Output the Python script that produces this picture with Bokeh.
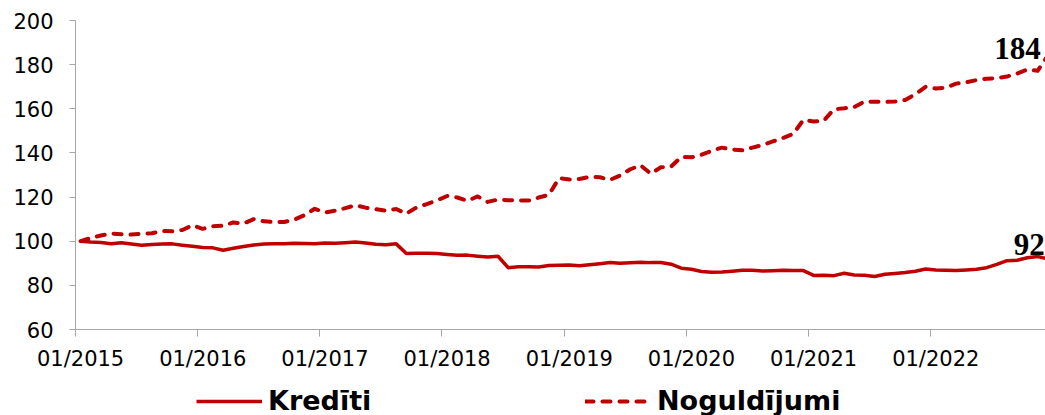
from bokeh.plotting import figure
from bokeh.layouts import column
from bokeh.models import Range1d, FixedTicker, Legend, LegendItem, Label, ColumnDataSource
from bokeh.embed import file_html
from bokeh.resources import INLINE

# Monthly categories 01/2015 .. 12/2022
months = [f"{mm:02d}/{yy}" for yy in range(2015, 2023) for mm in range(1, 13)]

# Index, 01/2015 = 100
kredititi = [
    100.0, 99.6, 99.4, 98.9, 99.3, 98.7, 98.2, 98.5, 98.7, 98.8, 98.2, 97.7,
    97.2, 97.0, 95.9, 96.8, 97.6, 98.3, 98.7, 98.9, 98.9, 99.1, 99.0, 98.9,
    99.2, 99.1, 99.3, 99.6, 99.2, 98.6, 98.4, 98.8, 94.4, 94.5, 94.6, 94.4,
    94.0, 93.6, 93.7, 93.2, 92.8, 93.2, 88.0, 88.4, 88.4, 88.3, 89.0, 89.1,
    89.2, 88.9, 89.3, 89.8, 90.4, 90.0, 90.2, 90.5, 90.3, 90.4, 89.6, 87.8,
    87.3, 86.3, 85.9, 86.0, 86.4, 86.8, 86.8, 86.5, 86.6, 86.8, 86.7, 86.7,
    84.5, 84.6, 84.4, 85.5, 84.7, 84.6, 84.0, 85.0, 85.4, 85.8, 86.4, 87.4,
    87.0, 86.9, 86.7, 87.0, 87.3, 88.0, 89.5, 91.2, 91.4, 92.5, 93.1, 92.0,
]
noguldijumi = [
    100.0, 101.5, 102.6, 103.5, 103.2, 103.0, 103.4, 103.6, 104.6, 104.5, 105.1, 107.2,
    105.6, 106.8, 107.0, 108.5, 108.0, 110.0, 109.0, 108.7, 108.7, 109.8, 111.8, 114.7,
    113.0, 113.8, 115.0, 116.3, 115.2, 114.5, 113.8, 114.6, 112.5, 115.3, 116.8, 118.5,
    120.5, 119.8, 118.3, 120.3, 117.8, 118.9, 118.6, 118.5, 118.4, 119.8, 121.0, 128.6,
    128.0, 128.2, 129.2, 129.0, 127.8, 129.8, 132.6, 134.4, 130.6, 133.5, 133.8, 138.2,
    138.0, 139.2, 141.0, 142.4, 141.5, 141.2, 142.4, 143.6, 145.2, 146.8, 148.6, 155.0,
    154.2, 154.6, 159.8, 160.2, 160.8, 163.3, 163.2, 163.1, 163.3, 164.0, 166.6, 169.9,
    169.2, 169.6, 171.4, 172.0, 173.0, 173.6, 173.9, 174.6, 176.0, 177.8, 177.2, 184.0,
]
series_names = ["Kredīti", "Noguldījumi"]
tick_labels = ["01/2015", "01/2016", "01/2017", "01/2018", "01/2019", "01/2020", "01/2021", "01/2022"]
y_ticks = [60, 80, 100, 120, 140, 160, 180, 200]
end_labels = ["92", "184"]

RED = "#C00000"
AXIS = "#A6A6A6"

x = list(range(len(months)))
src = ColumnDataSource(dict(x=x, month=months, k=kredititi, n=noguldijumi))

p = figure(frame_width=970, frame_height=309, output_backend="svg", toolbar_location=None,
           x_range=Range1d(-0.5, 94.78), y_range=Range1d(60, 200),
           min_border_left=75, min_border_right=0, min_border_top=20, min_border_bottom=41)
p.outline_line_color = None
p.xgrid.visible = False
p.ygrid.visible = False
p.background_fill_color = "white"
p.border_fill_color = "white"

solid_style = dict(line_color=RED, line_width=3.5, line_join="round")
dash_style = dict(line_color=RED, line_width=4, line_dash="8 9", line_cap="round", line_join="round")
r1 = p.line("x", "k", source=src, **solid_style)
r2 = p.line("x", "n", source=src, **dash_style)

tick_pos = [months.index(t) for t in tick_labels]
bounds = [t - 0.5 for t in tick_pos]
xa = p.xaxis[0]
xa.ticker = FixedTicker(ticks=tick_pos, minor_ticks=bounds)
xa.major_label_overrides = {t: lbl for t, lbl in zip(tick_pos, tick_labels)}
xa.major_tick_out = 0
xa.major_tick_in = 0
xa.minor_tick_out = 7
xa.minor_tick_in = 0
xa.minor_tick_line_color = AXIS
xa.axis_line_color = AXIS
xa.major_label_text_font = "DejaVu Sans"
xa.major_label_text_font_size = "21px"
xa.major_label_text_color = "#000000"
xa.major_label_standoff = 10

ya = p.yaxis[0]
ya.ticker = FixedTicker(ticks=y_ticks, minor_ticks=[])
ya.major_tick_out = 6
ya.major_tick_in = 0
ya.major_tick_line_color = AXIS
ya.axis_line_color = AXIS
ya.major_label_text_font = "DejaVu Sans"
ya.major_label_text_font_size = "21px"
ya.major_label_text_color = "#000000"
ya.major_label_standoff = 16

last = len(months) - 1
p.add_layout(Label(x=last, y=kredititi[-1], text=end_labels[0], text_font="Liberation Serif",
                   text_font_style="bold", text_font_size="31px", text_color="#000000",
                   text_align="right", text_baseline="alphabetic", x_offset=-3, y_offset=14))
p.add_layout(Label(x=last, y=noguldijumi[-1], text=end_labels[1], text_font="Liberation Serif",
                   text_font_style="bold", text_font_size="31px", text_color="#000000",
                   text_align="right", text_baseline="alphabetic", x_offset=-7, y_offset=7))

# Legend strip under the chart
lg = figure(width=1045, height=45, output_backend="svg", toolbar_location=None,
            x_axis_location=None, y_axis_location=None,
            x_range=Range1d(-0.5, 94.78), y_range=Range1d(1000, 1001),
            min_border_left=0, min_border_right=0, min_border_top=0, min_border_bottom=0)
lg.outline_line_color = None
lg.grid.visible = False
lr1 = lg.line("x", "k", source=src, **solid_style)
lr2 = lg.line("x", "n", source=src, **dash_style)
legend = Legend(items=[LegendItem(label=series_names[0], renderers=[lr1]),
                       LegendItem(label=series_names[1], renderers=[lr2])],
                orientation="horizontal", location=(121, 2), margin=0, padding=0,
                glyph_width=66, glyph_height=30, label_height=30, label_standoff=6,
                spacing=117, label_width=200,
                label_text_font="DejaVu Sans", label_text_font_style="bold",
                label_text_font_size="27px", label_text_color="#000000",
                background_fill_alpha=0, border_line_color=None)
lg.add_layout(legend, "center")

page = column(p, lg, spacing=0)
open("out.html", "w").write(file_html(page, INLINE))
